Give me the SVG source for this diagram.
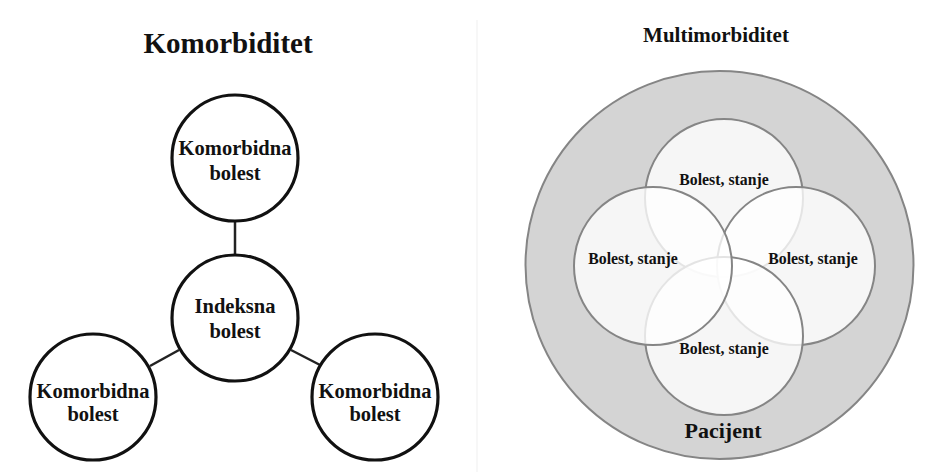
<svg xmlns="http://www.w3.org/2000/svg" width="952" height="472" viewBox="0 0 952 472">
<style>
.t{font-family:"Liberation Serif","Times New Roman",serif;font-weight:bold;fill:#111;text-anchor:middle}
.n{fill:#fff;stroke:#111;stroke-width:3.2}
.c{stroke:#222;stroke-width:2.5}
.v{fill:#fff;fill-opacity:0.78;stroke:#858585;stroke-width:2}
.k{font-size:20.5px}
.b{font-size:15.8px}
</style>
<rect width="952" height="472" fill="#fff"/>
<line x1="477" y1="20" x2="477" y2="472" stroke="#f4f4f4" stroke-width="1.5"/>
<text class="t" x="228" y="53" font-size="29">Komorbiditet</text>
<g id="connectors">
<line class="c" x1="235" y1="220" x2="235" y2="256"/>
<line class="c" x1="150" y1="366" x2="179" y2="350"/>
<line class="c" x1="291" y1="350" x2="322" y2="366"/>
</g>
<g id="n-top"><circle class="n" cx="235" cy="158" r="63"/>
<text class="t k" x="235" y="155">Komorbidna</text><text class="t k" x="235" y="180">bolest</text></g>
<g id="n-index"><circle class="n" cx="235" cy="318" r="63" fill="#fbfbfb"/>
<text class="t k" x="235" y="313">Indeksna</text><text class="t k" x="235" y="338">bolest</text></g>
<g id="n-left"><circle class="n" cx="93" cy="397" r="63"/>
<text class="t k" x="93" y="398">Komorbidna</text><text class="t k" x="93" y="421">bolest</text></g>
<g id="n-right"><circle class="n" cx="375" cy="397" r="63"/>
<text class="t k" x="375" y="398">Komorbidna</text><text class="t k" x="375" y="421">bolest</text></g>
<text class="t" x="716" y="42" font-size="21">Multimorbiditet</text>
<g id="patient"><circle cx="719.5" cy="265" r="194" fill="#d4d4d4" stroke="#858585" stroke-width="2"/>
<text class="t" x="723" y="438" font-size="22">Pacijent</text></g>
<g id="d-top"><circle class="v" cx="724" cy="198" r="79"/></g>
<g id="d-right"><circle class="v" cx="796" cy="266" r="79"/></g>
<g id="d-bottom"><circle class="v" cx="724" cy="336" r="79"/></g>
<g id="d-left"><circle class="v" cx="653" cy="266" r="79"/></g>
<text class="t b" x="724" y="185">Bolest, stanje</text>
<text class="t b" x="633" y="264">Bolest, stanje</text>
<text class="t b" x="813" y="264">Bolest, stanje</text>
<text class="t b" x="724" y="354">Bolest, stanje</text>
</svg>
